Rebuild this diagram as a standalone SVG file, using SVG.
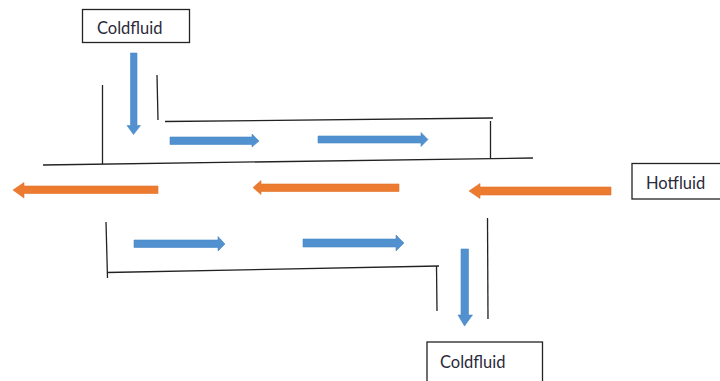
<svg xmlns="http://www.w3.org/2000/svg" width="720" height="381" viewBox="0 0 720 381">
<style>
.box{fill:#fff;stroke:#222;stroke-width:1.300}
.lbl{font-family:"Lato","Open Sans",sans-serif;font-size:16.500px;fill:#2a2a3a}
.wall{fill:none;stroke:#222;stroke-width:1.300}
.cold{fill:#5291cf;stroke:#4a8ac6;stroke-width:.6}
.hot{fill:#ec7b2f;stroke:#e0722a;stroke-width:.6}
</style>
<rect width="720" height="381" fill="#fff"/>
<g id="connectors">
<path class="wall" d="M102.500 85V164"/>
<path class="wall" d="M157 75L158 120"/>
<path class="wall" d="M165 121.500L493 118"/>
<path class="wall" d="M490.500 121V158"/>
<path class="wall" d="M43 165L533 158"/>
<path class="wall" d="M106 222L107.500 278"/>
<path class="wall" d="M107 272.500L439 266"/>
<path class="wall" d="M436.500 266L437 311"/>
<path class="wall" d="M487.500 218L488 319"/>
<path class="cold" d="M130.500 53H137V125.500H140.500L133.500 134.500L127 125.500H130.500Z"/>
<path class="cold" d="M170 137H252V134L259 141L252 147V144.500H170Z"/>
<path class="cold" d="M318 136H421V132.500L428 139.500L421 146.500V143H318Z"/>
<path class="cold" d="M134 240H218V236.500L225 244L218 251V247.500H134Z"/>
<path class="cold" d="M303 239H396V235L404 243L396 251V247H303Z"/>
<path class="cold" d="M461 249H468.500V315H472.500L464.500 326L458 315H461Z"/>
<path class="hot" d="M158 186V193.500H24V198L13 190L24 182.500V186Z"/>
<path class="hot" d="M399 184V191.500H261V194.500L253 187.500L261 180.500V184Z"/>
<path class="hot" d="M611 187V195H480V198.500L469 191L480 183.500V187Z"/>
</g>
<g id="cold-in"><rect class="box" x="82.500" y="9.500" width="107" height="33"/><text class="lbl" x="97" y="33.500">Coldfluid</text></g>
<g id="hot-in"><rect class="box" x="632" y="163.500" width="90" height="35.500"/><text class="lbl" x="646" y="188.500">Hotfluid</text></g>
<g id="cold-out"><rect class="box" x="427" y="342" width="115.500" height="45"/><text class="lbl" x="440" y="367.500">Coldfluid</text></g>
</svg>
